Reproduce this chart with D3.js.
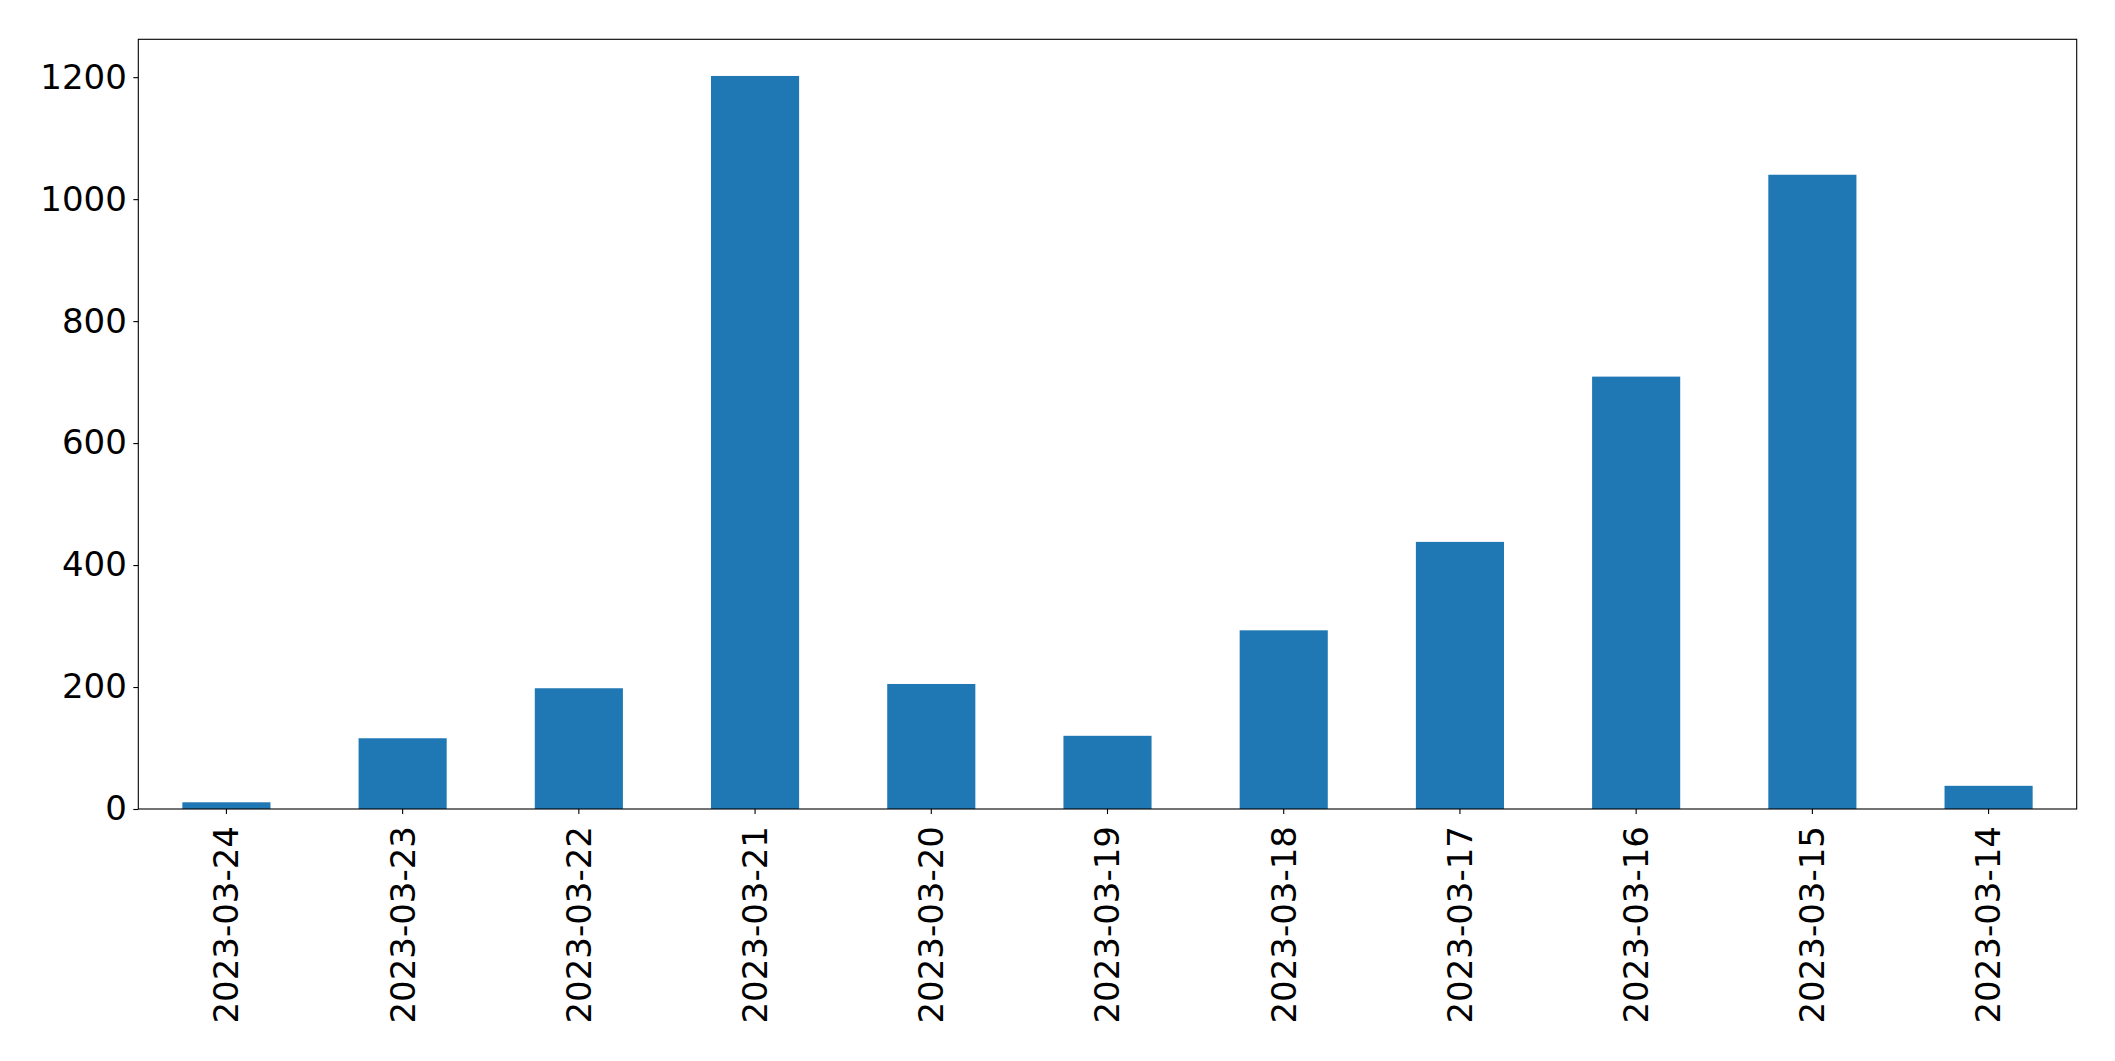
<!DOCTYPE html>
<html>
<head>
<meta charset="utf-8">
<script src="https://cdn.jsdelivr.net/npm/d3@7"></script>
<style>
 body { margin: 0; background: #fff; }
 text { font-family: "DejaVu Sans", sans-serif; fill: #000; }
</style>
</head>
<body>
<script>
 // dates, in the order they appear on the x axis
 const dates = ['2023-03-24', '2023-03-23', '2023-03-22', '2023-03-21', '2023-03-20', '2023-03-19',
                '2023-03-18', '2023-03-17', '2023-03-16', '2023-03-15', '2023-03-14'];
 // counts per date
 const counts = [11, 116, 198, 1202, 205, 120, 293, 438, 709, 1040, 38];
 // y tick values
 const yTicks = [0, 200, 400, 600, 800, 1000, 1200];

 const data = dates.map((d, i) => ({ date: d, count: counts[i] }));

 // constants
 const width = 2115;
 const height = 1061;
 const margin = { top: 39.3, bottom: 252, left: 138.3, right: 38.3 };
 const fontSize = 34;

 const svg = d3.select('body').append('svg')
       .attr('width', width).attr('height', height);

 // x scale: bars take half of each slot, like pandas bar plots
 const xScale = d3.scaleBand()
       .domain(dates).range([margin.left, width - margin.right])
       .paddingInner(0.5).paddingOuter(0.25);

 // y scale with 5% headroom
 const yScale = d3.scaleLinear()
       .domain([0, d3.max(counts) * 1.05])
       .range([height - margin.bottom, margin.top]);

 // bars
 svg.append('g').selectAll('rect').data(data).enter().append('rect')
    .attr('x', (d) => xScale(d.date)).attr('y', (d) => yScale(d.count))
    .attr('width', xScale.bandwidth())
    .attr('height', (d) => yScale(0) - yScale(d.count))
    .style('fill', '#1f77b4');

 // y axis
 const yAxis = svg.append('g')
       .attr('transform', `translate(${margin.left},0)`)
       .call(d3.axisLeft(yScale).tickValues(yTicks).tickFormat(d3.format('d'))
             .tickSize(5).tickPadding(6.5));
 yAxis.select('.domain').remove();
 yAxis.selectAll('text').style('font-size', `${fontSize}px`).style('font-family', '"DejaVu Sans", sans-serif');
 yAxis.selectAll('line').attr('stroke-width', 1.1);

 // x axis with rotated labels
 const xAxis = svg.append('g')
       .attr('transform', `translate(0,${height - margin.bottom})`)
       .call(d3.axisBottom(xScale).tickSize(5));
 xAxis.select('.domain').remove();
 xAxis.selectAll('line').attr('stroke-width', 1.1);
 xAxis.selectAll('text')
      .style('font-size', `${fontSize}px`).style('font-family', '"DejaVu Sans", sans-serif')
      .style('text-anchor', 'end')
      .attr('transform', 'rotate(-90)')
      .attr('x', -17).attr('y', 0).attr('dy', '0.35em');

 // frame
 svg.append('rect')
    .attr('x', margin.left).attr('y', margin.top)
    .attr('width', width - margin.left - margin.right)
    .attr('height', height - margin.top - margin.bottom)
    .style('fill', 'none').style('stroke', '#000').style('stroke-width', 1.1);
</script>
</body>
</html>
